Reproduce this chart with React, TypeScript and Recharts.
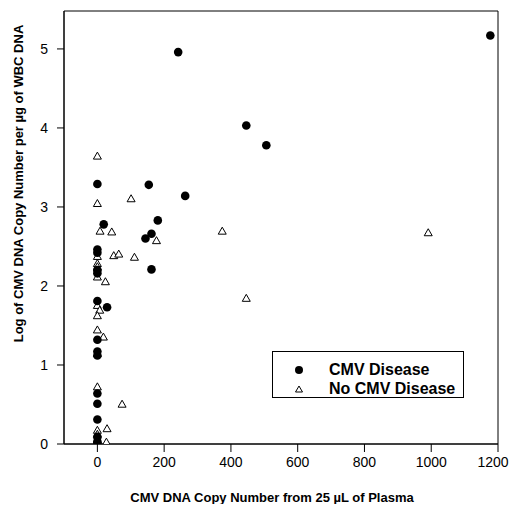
import React from "react";
import {
  ScatterChart,
  Scatter,
  XAxis,
  YAxis,
  ReferenceArea,
  Legend,
} from "recharts";

// CMV DNA copy number from 25 µL plasma (x) vs log copy number per µg WBC DNA (y)
const diseaseX = [0, 19, 0, 0, 0, 0, 0, 29, 0, 0, 0, 0, 0, 0, 0, 0, 0, 154, 181, 162, 144, 162, 263, 242, 446, 506, 1177];
const diseaseY = [3.29, 2.78, 2.46, 2.42, 2.2, 2.16, 1.81, 1.73, 1.32, 1.17, 1.12, 0.64, 0.51, 0.31, 0.09, 0.03, 0.0, 3.28, 2.83, 2.66, 2.6, 2.21, 3.14, 4.96, 4.03, 3.78, 5.17];

const noDiseaseX = [0, 0, 101, 8, 43, 0, 49, 64, 111, 0, 0, 0, 24, 0, 7, 0, 0, 18, 0, 0, 74, 29, 0, 0, 0, 27, 177, 374, 446, 991];
const noDiseaseY = [3.65, 3.05, 3.11, 2.7, 2.69, 2.38, 2.39, 2.41, 2.37, 2.29, 2.25, 2.12, 2.06, 1.76, 1.7, 1.63, 1.45, 1.36, 1.15, 0.73, 0.51, 0.2, 0.18, 0.13, 0.06, 0.03, 2.58, 2.7, 1.85, 2.68];

const xTicks = [0, 200, 400, 600, 800, 1000, 1200];
const yTicks = [0, 1, 2, 3, 4, 5];

const seriesNames = ["CMV Disease", "No CMV Disease"];

const diseaseData = diseaseX.map((x, i) => ({ x, y: diseaseY[i] }));
const noDiseaseData = noDiseaseX.map((x, i) => ({ x, y: noDiseaseY[i] }));

const FONT = "'Liberation Sans', Arial, Helvetica, sans-serif";

const CircleShape = (props: any) => (
  <circle cx={props.cx} cy={props.cy} r={4.3} fill="#000" />
);

const TriangleShape = (props: any) => {
  const { cx, cy } = props;
  const h = 7;
  const w = 8;
  const pts = `${cx},${cy - h / 2} ${cx + w / 2},${cy + h / 2} ${cx - w / 2},${cy + h / 2}`;
  return <polygon points={pts} fill="#fff" stroke="#000" strokeWidth={1} />;
};

const XTick = (props: any) => {
  const { x, y, payload, index } = props;
  const isLast = index === xTicks.length - 1;
  return (
    <text
      x={x + (isLast ? -5 : 0)}
      y={y}
      dy="0.71em"
      textAnchor="middle"
      fontFamily={FONT}
      fontSize={14}
      fill="#000"
    >
      {payload.value}
    </text>
  );
};

const LegendBox = () => (
  <svg width={192} height={47} style={{ display: "block" }}>
    <rect x={0.5} y={0.5} width={191} height={46} fill="#fff" stroke="#000" strokeWidth={1} />
    <circle cx={27} cy={19} r={4} fill="#000" />
    <polygon points="27,35 30.5,41 23.5,41" fill="#fff" stroke="#000" strokeWidth={1} />
    <text x={57} y={24} fontFamily={FONT} fontWeight="bold" fontSize={16} fill="#000">
      {seriesNames[0]}
    </text>
    <text x={57} y={43} fontFamily={FONT} fontWeight="bold" fontSize={16} fill="#000">
      {seriesNames[1]}
    </text>
  </svg>
);

export default function App() {
  return (
    <div style={{ width: 510, height: 496 }}>
      <ScatterChart
        width={510}
        height={496}
        margin={{ top: 3, right: 20, bottom: 0, left: 0 }}
      >
        <XAxis
          type="number"
          dataKey="x"
          domain={[-100, 1200]}
          ticks={xTicks}
          allowDataOverflow
          tickSize={8}
          tickMargin={5}
          height={60}
          stroke="#000"
          axisLine={{ stroke: "#000" }}
          tickLine={{ stroke: "#000" }}
          tick={<XTick />}
          label={{
            value: "CMV DNA Copy Number from 25 \u00b5L of Plasma",
            position: "insideBottom",
            offset: 2,
            dx: -9,
            style: { fontFamily: FONT, fontWeight: "bold", fontSize: 13, fill: "#000" },
          }}
        />
        <YAxis
          type="number"
          dataKey="y"
          domain={[0, 5.48]}
          ticks={yTicks}
          allowDataOverflow
          width={56}
          tickSize={7}
          tickMargin={9}
          stroke="#000"
          axisLine={{ stroke: "#000" }}
          tickLine={{ stroke: "#000" }}
          tick={{ fill: "#000", fontSize: 14, fontFamily: FONT }}
          label={{
            value: "Log of CMV DNA Copy Number per \u00b5g of WBC DNA",
            angle: -90,
            position: "insideLeft",
            offset: 10,
            dy: -44,
            style: {
              textAnchor: "middle",
              fontFamily: FONT,
              fontWeight: "bold",
              fontSize: 13,
              fill: "#000",
            },
          }}
        />
        <ReferenceArea
          x1={-100}
          x2={1200}
          y1={0}
          y2={5.48}
          fill="none"
          stroke="#000"
          strokeWidth={1}
          ifOverflow="visible"
        />
        <Scatter
          name={seriesNames[1]}
          data={noDiseaseData}
          shape={TriangleShape}
          isAnimationActive={false}
        />
        <Scatter
          name={seriesNames[0]}
          data={diseaseData}
          shape={CircleShape}
          isAnimationActive={false}
        />
        <Legend
          content={() => <LegendBox />}
          layout="vertical"
          verticalAlign="middle"
          align="center"
          wrapperStyle={{ left: 264, top: 343, width: 192, height: 47 }}
        />
      </ScatterChart>
    </div>
  );
}
